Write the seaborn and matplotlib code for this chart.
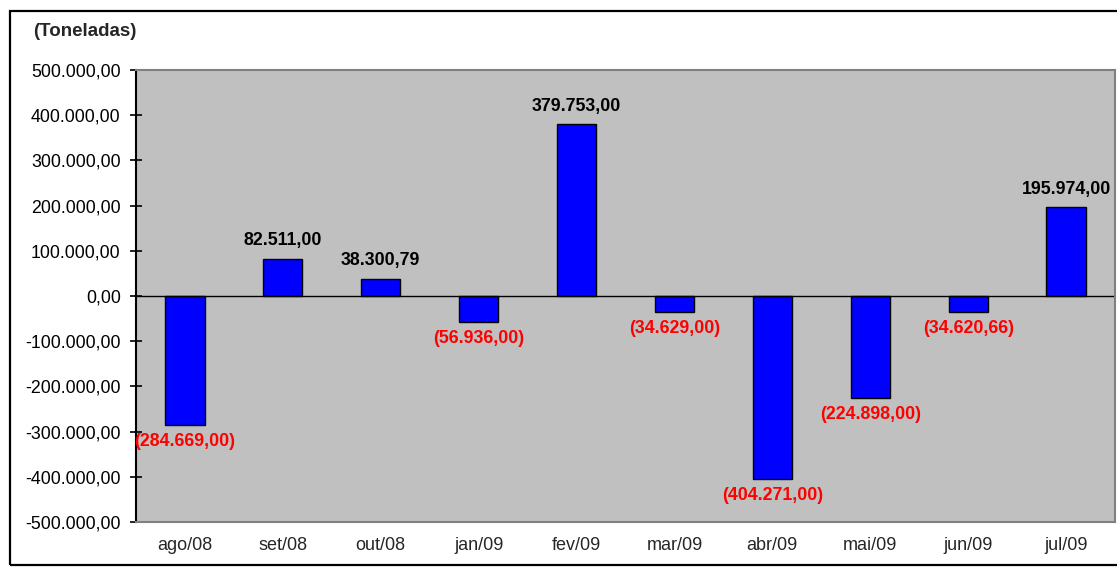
import matplotlib
matplotlib.use("Agg")
import matplotlib.pyplot as plt
import matplotlib.ticker as mticker
from matplotlib.patches import Rectangle
import seaborn as sns
import pandas as pd

meses = ["ago/08", "set/08", "out/08", "jan/09", "fev/09",
         "mar/09", "abr/09", "mai/09", "jun/09", "jul/09"]
toneladas = [-284669.00, 82511.00, 38300.79, -56936.00, 379753.00,
             -34629.00, -404271.00, -224898.00, -34620.66, 195974.00]
y_ticks = [-500000, -400000, -300000, -200000, -100000, 0,
           100000, 200000, 300000, 400000, 500000]


def br_num(v):
    s = f"{abs(v):,.2f}".replace(",", "X").replace(".", ",").replace("X", ".")
    return s


def tick_fmt(v, pos=None):
    s = br_num(v)
    return "-" + s if v < 0 else s


sns.set_style("white")
plt.rcParams["font.family"] = ["Liberation Sans", "DejaVu Sans"]

df = pd.DataFrame({"mes": meses, "valor": toneladas})

fig = plt.figure(figsize=(11.17, 5.68), dpi=100)
ax = fig.add_axes([136 / 1117, 1 - 522 / 568, (1115 - 136) / 1117, (522 - 70) / 568])
ax.set_facecolor("#C0C0C0")

sns.barplot(data=df, x="mes", y="valor", color="#0000FF", width=0.4,
            edgecolor="black", linewidth=1.0, saturation=1, ax=ax)

ax.set_ylim(-500000, 500000)
ax.set_xlim(-0.5, len(meses) - 0.5)
ax.set_yticks(y_ticks)
ax.yaxis.set_major_formatter(mticker.FuncFormatter(tick_fmt))
ax.axhline(0, color="black", linewidth=1.0, zorder=1)

ax.tick_params(axis="y", direction="inout", length=9, width=1.2, labelsize=12.8,
               colors="black", left=True, pad=6.5)
ax.tick_params(axis="x", length=0, labelsize=13, pad=11)
ax.set_xlabel("")
ax.set_ylabel("")

for side in ["top", "right", "bottom"]:
    ax.spines[side].set_color("#808080")
    ax.spines[side].set_linewidth(1.5)
ax.spines["left"].set_color("black")
ax.spines["left"].set_linewidth(1.5)

for i, v in enumerate(toneladas):
    if v >= 0:
        ax.annotate(br_num(v), (i, v), xytext=(0, 7), textcoords="offset points",
                    ha="center", va="bottom", fontsize=12.8, fontweight="bold",
                    color="black")
    else:
        ax.annotate(f"({br_num(v)})", (i, v), xytext=(0, -6), textcoords="offset points",
                    ha="center", va="top", fontsize=12.8, fontweight="bold",
                    color="#FF0000")

fig.text(33 / 1117, 1 - 32 / 568, "(Toneladas)", fontsize=13.5, fontweight="bold",
         ha="left", va="center")

fig.patches.append(Rectangle((10 / 1117, 1 - 565 / 568), 1.2, (565 - 11) / 568,
                             transform=fig.transFigure, fill=False,
                             edgecolor="black", linewidth=1.6))

fig.savefig("out.png", dpi=100, facecolor="white")
